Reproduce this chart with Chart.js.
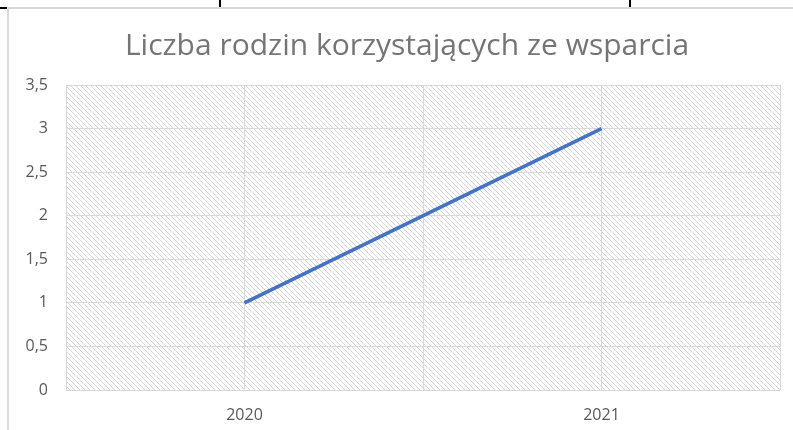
<!DOCTYPE html>
<html>
<head>
<meta charset="utf-8">
<script src="https://cdn.jsdelivr.net/npm/chart.js@4"></script>
<style>
  html,body{margin:0;padding:0;background:#fff;width:793px;height:430px;overflow:hidden;position:relative;}
  #wrap{position:absolute;left:0;top:0;width:793px;height:430px;}
  .ln{position:absolute;}
</style>
</head>
<body>
<div id="wrap"><canvas id="c" width="793" height="430"></canvas></div>
<div class="ln" style="left:7px;top:7px;width:786px;height:2px;background:#d9d9d9"></div>
<div class="ln" style="left:7px;top:7px;width:2px;height:423px;background:#d9d9d9"></div>
<div class="ln" style="left:0;top:7px;width:7px;height:2px;background:#000"></div>
<div class="ln" style="left:219px;top:0;width:2px;height:7px;background:#000"></div>
<div class="ln" style="left:629px;top:0;width:2px;height:7px;background:#000"></div>
<script>
const title = 'Liczba rodzin korzystających ze wsparcia';
const categories = ['2020', '2021'];
const values = [1, 3];
const yTicks = {min: 0, max: 3.5, step: 0.5};

function hatch(){
  const p = document.createElement('canvas');
  p.width = 5; p.height = 5;
  const g = p.getContext('2d');
  g.fillStyle = '#fff'; g.fillRect(0,0,5,5);
  g.fillStyle = '#d6d6d6';
  for(let i=0;i<5;i++) g.fillRect(i,i,1,1);
  return g.createPattern(p,'repeat');
}

const bgPlugin = {
  id:'bg',
  beforeDraw(chart){
    const a = chart.chartArea, ctx = chart.ctx;
    ctx.save();
    ctx.fillStyle = hatch();
    ctx.fillRect(a.left, a.top, a.right-a.left, a.bottom-a.top);
    ctx.restore();
  }
};

new Chart(document.getElementById('c'), {
  type:'line',
  data:{
    labels: categories,
    datasets:[{
      data: values,
      borderColor:'#4472C4',
      borderWidth:3.5,
      pointRadius:0,
      tension:0,
      xAxisID:'x',
      yAxisID:'y'
    }]
  },
  options:{
    responsive:false,
    animation:false,
    devicePixelRatio:1,
    layout:{padding:{left:21,right:0,top:0,bottom:0}},
    plugins:{
      legend:{display:false},
      tooltip:{enabled:false},
      title:{
        display:true,
        text:title,
        color:'#757575',
        font:{family:'"Open Sans"', size:30, weight:'normal', lineHeight:1.2},
        padding:{top:28,bottom:21}
      }
    },
    scales:{
      x:{
        type:'category',
        offset:true,
        grid:{display:false},
        border:{display:false},
        ticks:{color:'#595959', font:{family:'"Open Sans"', size:16}, padding:8},
        afterFit(s){ s.height = 40; }
      },
      xg:{
        type:'linear',
        position:'bottom',
        min:0, max:4,
        ticks:{display:false, stepSize:1},
        grid:{color:'#d9d9d9', drawTicks:false, lineWidth:1},
        border:{display:false},
        afterFit(s){ s.height = 0; }
      },
      y:{
        min:yTicks.min, max:yTicks.max,
        ticks:{
          stepSize:yTicks.step,
          color:'#595959',
          font:{family:'"Open Sans"', size:16},
          padding:18,
          callback:v=>String(v).replace('.',',')
        },
        grid:{color:'#d9d9d9', drawTicks:false},
        border:{display:false},
        afterFit(s){ s.width = 45; }
      },
      yr:{
        position:'right',
        min:0, max:1,
        ticks:{display:false},
        grid:{display:false, drawTicks:false},
        border:{display:false},
        afterFit(s){ s.width = 13; }
      }
    }
  },
  plugins:[bgPlugin]
});
</script>
</body>
</html>
